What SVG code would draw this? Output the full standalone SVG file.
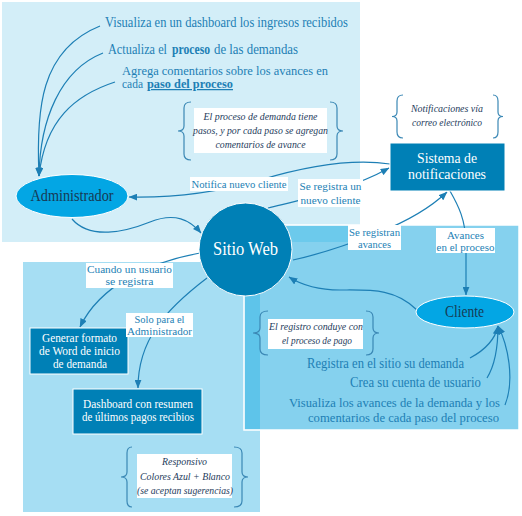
<svg xmlns="http://www.w3.org/2000/svg" width="522" height="516" viewBox="0 0 522 516" font-family="Liberation Serif">
<defs>
<style>
text{font-family:'Liberation Serif',serif}
.blue{fill:#1d7fb5}
.conn{fill:none;stroke:#1d7fb5;stroke-width:1.2}
.brace{fill:none;stroke:#3b88b5;stroke-width:1.2}
.note{font-style:italic;font-size:10.5px;fill:#1e3b5c}
.lbl{font-size:11px;fill:#1d7fb5}
.bg{fill:#ffffff}
.dark{fill:#0080b6;stroke:#ffffff;stroke-width:1}
.light{fill:#03a6e4;stroke:#ffffff;stroke-width:1}
.wt{fill:#ffffff}
.nt{fill:#173a55}
</style>
<marker id="arr" viewBox="0 0 10 8" refX="9.5" refY="4" markerWidth="9" markerHeight="7" markerUnits="userSpaceOnUse" orient="auto">
<path d="M0,0 L10,4 L0,8 z" fill="#1d7fb5"/>
</marker>
</defs>
<rect width="522" height="516" fill="#ffffff"/>
<g id="regions">
<rect x="2" y="2" width="358" height="240" fill="#d3eef8"/>
<rect x="23" y="262" width="237" height="250" fill="#a6def3"/>
<rect x="244" y="225" width="275" height="205" fill="#85d1ee" stroke="#ffffff" stroke-width="1.5"/>
<rect x="245" y="226" width="115" height="16" fill="#6ccaec"/>
<rect x="245" y="262" width="15" height="167" fill="#5ec4ea"/>
</g>
<g id="connectors">
<path class="conn" d="M100,26 C40,50 36,110 39,176" marker-end="url(#arr)"/>
<path class="conn" d="M103,53 C60,70 40,120 39,176" marker-end="url(#arr)"/>
<path class="conn" d="M115,82 C75,95 45,120 39,176" marker-end="url(#arr)"/>
<path class="conn" d="M390,164 C350,158 300,168 260,180 C220,192 180,198 129,197" marker-end="url(#arr)"/>
<path class="conn" d="M72,219 C90,240 125,232 150,222 C175,212 190,220 201,233" marker-end="url(#arr)"/>
<path class="conn" d="M200,253 C150,262 100,285 80,327" marker-end="url(#arr)"/>
<path class="conn" d="M207,278 C165,310 138,340 138,388" marker-end="url(#arr)"/>
<path class="conn" d="M268,208 C300,200 350,190 389,168" marker-end="url(#arr)"/>
<path class="conn" d="M293,260 C330,252 360,240 380,232 C405,222 430,208 447,192" marker-end="url(#arr)"/>
<path class="conn" d="M450,191 C458,205 466,220 466,245 L466,295" marker-end="url(#arr)"/>
<path class="conn" d="M417,310 C395,288 370,290 340,290 C315,290 300,284 289,277" marker-end="url(#arr)"/>
<path class="conn" d="M470,358 C485,350 495,340 498,326" marker-end="url(#arr)"/>
<path class="conn" d="M487,378 C495,365 498,345 498,326" marker-end="url(#arr)"/>
<path class="conn" d="M505,405 C515,380 508,345 498,326" marker-end="url(#arr)"/>
</g>
<g id="admin-actions">
<text class="blue" x="105" y="27" font-size="14" textLength="243" lengthAdjust="spacingAndGlyphs">Visualiza en un dashboard los ingresos recibidos</text>
<text class="blue" x="108" y="54" font-size="14" textLength="59" lengthAdjust="spacingAndGlyphs">Actualiza el</text>
<text class="blue" x="172" y="54" font-size="14" font-weight="bold" textLength="38" lengthAdjust="spacingAndGlyphs">proceso</text>
<text class="blue" x="214" y="54" font-size="14" textLength="84" lengthAdjust="spacingAndGlyphs">de las demandas</text>
<text class="blue" x="122" y="75" font-size="12.5" textLength="206" lengthAdjust="spacingAndGlyphs">Agrega comentarios sobre los avances en</text>
<text class="blue" x="122" y="88" font-size="12.5" textLength="21" lengthAdjust="spacingAndGlyphs">cada</text>
<text class="blue" x="147" y="88" font-size="12.5" font-weight="bold" text-decoration="underline" textLength="86" lengthAdjust="spacingAndGlyphs">paso del proceso</text>
</g>
<g id="note-proceso">
<rect class="bg" x="194" y="108" width="133" height="45"/>
<path class="brace" d="M191,102 Q184,102 184,108 L184,126 Q184,131 178,131 Q184,131 184,136 L184,154 Q184,160 191,160"/>
<path class="brace" d="M330,102 Q337,102 337,108 L337,126 Q337,131 343,131 Q337,131 337,136 L337,154 Q337,160 330,160"/>
<text class="note" x="260.5" y="120" text-anchor="middle" textLength="114" lengthAdjust="spacingAndGlyphs">El proceso de demanda tiene</text>
<text class="note" x="260.5" y="134" text-anchor="middle" textLength="135" lengthAdjust="spacingAndGlyphs">pasos, y por cada paso se agregan</text>
<text class="note" x="260.5" y="148" text-anchor="middle" textLength="90" lengthAdjust="spacingAndGlyphs">comentarios de avance</text>
</g>
<g id="note-notificaciones">
<path class="brace" d="M403,95 Q397,95 397,101 L397,112 Q397,116.5 392,116.5 Q397,116.5 397,121 L397,132 Q397,138 403,138"/>
<path class="brace" d="M493,95 Q498,95 498,101 L498,112 Q498,116.5 503,116.5 Q498,116.5 498,121 L498,132 Q498,138 493,138"/>
<text class="note" x="447" y="112" text-anchor="middle" textLength="72" lengthAdjust="spacingAndGlyphs">Notificaciones vía</text>
<text class="note" x="447" y="126" text-anchor="middle" textLength="70" lengthAdjust="spacingAndGlyphs">correo electrónico</text>
</g>
<g id="note-pago">
<rect class="bg" x="268" y="319" width="95" height="30"/>
<path class="brace" d="M268,311 Q260,311 260,317 L260,328 Q260,333 253,333 Q260,333 260,338 L260,349 Q260,355 268,355"/>
<path class="brace" d="M366,311 Q373,311 373,317 L373,328 Q373,333 379,333 Q373,333 373,338 L373,349 Q373,355 366,355"/>
<text class="note" x="316" y="330" text-anchor="middle" textLength="94" lengthAdjust="spacingAndGlyphs">El registro conduye con</text>
<text class="note" x="317" y="344" text-anchor="middle" textLength="70" lengthAdjust="spacingAndGlyphs">el proceso de pago</text>
</g>
<g id="note-responsivo">
<rect class="bg" x="137" y="454" width="95" height="44"/>
<path class="brace" d="M132,447 Q127,447 127,453 L127,472 Q127,477 121,477 Q127,477 127,482 L127,501 Q127,507 132,507"/>
<path class="brace" d="M234,447 Q242,447 242,453 L242,472 Q242,477 248,477 Q242,477 242,482 L242,501 Q242,507 234,507"/>
<text class="note" x="184.5" y="465" text-anchor="middle" textLength="45" lengthAdjust="spacingAndGlyphs">Responsivo</text>
<text class="note" x="185" y="480" text-anchor="middle" textLength="90" lengthAdjust="spacingAndGlyphs">Colores Azul + Blanco</text>
<text class="note" x="185" y="494" text-anchor="middle" textLength="96" lengthAdjust="spacingAndGlyphs">(se aceptan sugerencias)</text>
</g>
<g id="administrador">
<ellipse class="light" cx="72" cy="196" rx="56" ry="21.5"/>
<text class="nt" x="72" y="201" font-size="16" text-anchor="middle" textLength="83" lengthAdjust="spacingAndGlyphs">Administrador</text>
</g>
<g id="sitio-web">
<circle class="dark" cx="245.5" cy="249.5" r="46.5" stroke-width="1.5"/>
<text class="wt" x="245.5" y="255" font-size="19" text-anchor="middle" textLength="65" lengthAdjust="spacingAndGlyphs">Sitio Web</text>
</g>
<g id="sistema-notificaciones">
<rect class="dark" x="390" y="143" width="115" height="48"/>
<text class="wt" x="447" y="163" font-size="15" text-anchor="middle" textLength="60" lengthAdjust="spacingAndGlyphs">Sistema de</text>
<text class="wt" x="447" y="179" font-size="15" text-anchor="middle" textLength="78" lengthAdjust="spacingAndGlyphs">notificaciones</text>
</g>
<g id="cliente">
<ellipse class="light" cx="465" cy="312" rx="49" ry="16"/>
<text class="nt" x="464.5" y="317" font-size="16" text-anchor="middle" textLength="39" lengthAdjust="spacingAndGlyphs">Cliente</text>
</g>
<g id="generar-formato">
<rect class="dark" x="30" y="328" width="98" height="46"/>
<text class="wt" x="79.5" y="342" font-size="12" text-anchor="middle" textLength="75" lengthAdjust="spacingAndGlyphs">Generar formato</text>
<text class="wt" x="79.5" y="355" font-size="12" text-anchor="middle" textLength="81" lengthAdjust="spacingAndGlyphs">de Word de inicio</text>
<text class="wt" x="80" y="368" font-size="12" text-anchor="middle" textLength="54" lengthAdjust="spacingAndGlyphs">de demanda</text>
</g>
<g id="dashboard">
<rect class="dark" x="73" y="389" width="129" height="45"/>
<text class="wt" x="138" y="408" font-size="12" text-anchor="middle" textLength="110" lengthAdjust="spacingAndGlyphs">Dashboard con resumen</text>
<text class="wt" x="138" y="421" font-size="12" text-anchor="middle" textLength="112" lengthAdjust="spacingAndGlyphs">de últimos pagos recibios</text>
</g>
<g id="cliente-actions">
<text class="blue" x="307" y="368" font-size="14" textLength="157" lengthAdjust="spacingAndGlyphs">Registra en el sitio su demanda</text>
<text class="blue" x="350" y="387" font-size="14" textLength="131" lengthAdjust="spacingAndGlyphs">Crea su cuenta de usuario</text>
<text class="blue" x="289" y="407" font-size="13.5" textLength="211" lengthAdjust="spacingAndGlyphs">Visualiza los avances de la demanda y los</text>
<text class="blue" x="308" y="422" font-size="13.5" textLength="191" lengthAdjust="spacingAndGlyphs">comentarios de cada paso del proceso</text>
</g>
<g id="labels">
<rect class="bg" x="190" y="177" width="98" height="14"/>
<text class="lbl" x="239" y="188" text-anchor="middle" textLength="95" lengthAdjust="spacingAndGlyphs">Notifica nuevo cliente</text>
<rect class="bg" x="298" y="179" width="65" height="28"/>
<text class="lbl" x="330.5" y="190" text-anchor="middle" textLength="62" lengthAdjust="spacingAndGlyphs">Se registra un</text>
<text class="lbl" x="330.5" y="204" text-anchor="middle" textLength="60" lengthAdjust="spacingAndGlyphs">nuevo cliente</text>
<rect class="bg" x="348" y="225" width="53" height="25"/>
<text class="lbl" x="374.5" y="236" text-anchor="middle" textLength="51" lengthAdjust="spacingAndGlyphs">Se registran</text>
<text class="lbl" x="374.5" y="248" text-anchor="middle" textLength="33" lengthAdjust="spacingAndGlyphs">avances</text>
<rect class="bg" x="436" y="228" width="59" height="25"/>
<text class="lbl" x="465.5" y="239" text-anchor="middle" textLength="37" lengthAdjust="spacingAndGlyphs">Avances</text>
<text class="lbl" x="465.5" y="251" text-anchor="middle" textLength="58" lengthAdjust="spacingAndGlyphs">en el proceso</text>
<rect class="bg" x="86" y="263" width="87" height="25"/>
<text class="lbl" x="129.5" y="273" text-anchor="middle" textLength="85" lengthAdjust="spacingAndGlyphs">Cuando un usuario</text>
<text class="lbl" x="129.5" y="285" text-anchor="middle" textLength="48" lengthAdjust="spacingAndGlyphs">se registra</text>
<rect class="bg" x="126" y="313" width="67" height="24"/>
<text class="lbl" x="159.5" y="323" text-anchor="middle" textLength="50" lengthAdjust="spacingAndGlyphs">Solo para el</text>
<text class="lbl" x="159.5" y="335" text-anchor="middle" textLength="65" lengthAdjust="spacingAndGlyphs">Administrador</text>
</g>
</svg>
